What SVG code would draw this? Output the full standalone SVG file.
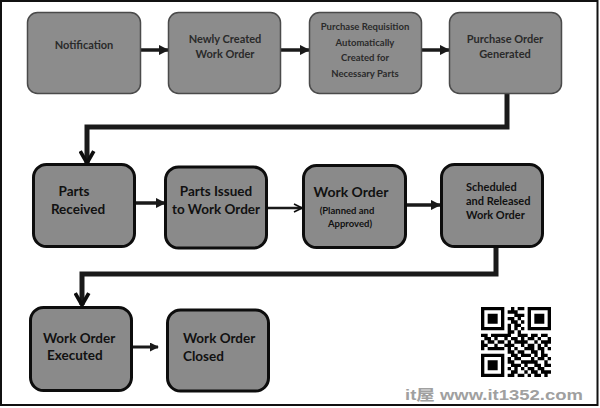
<svg xmlns="http://www.w3.org/2000/svg" width="600" height="408" viewBox="0 0 600 408">
<style>
.b1{fill:#8c8c8c;stroke:#4a4a4a;stroke-width:1.5}
.b2{fill:#8a8a8a;stroke:#0d0d0d;stroke-width:3}
.t1{font-family:Lato,"Liberation Sans",sans-serif;font-weight:bold;fill:#2a2a2a;text-anchor:middle}
.t2{font-family:Lato,"Liberation Sans",sans-serif;font-weight:bold;fill:#111;text-anchor:middle}
.s{text-anchor:start}
.c{fill:none;stroke:#1a1a1a}
</style>
<defs>
<marker id="ah" viewBox="0 0 10 10" refX="9" refY="5" markerWidth="3" markerHeight="3" orient="auto" markerUnits="strokeWidth">
<path d="M0 0L10 5L0 10z" fill="#1a1a1a"/>
</marker>
<marker id="ahd" viewBox="0 0 10 10" refX="8" refY="5" markerWidth="3.4" markerHeight="3.4" orient="auto" markerUnits="strokeWidth">
<path d="M1 1L8 5L1 9" fill="none" stroke="#0d0d0d" stroke-width="2.2"/>
</marker>
<marker id="aho" viewBox="0 0 10 10" refX="9" refY="5" markerWidth="4" markerHeight="4" orient="auto" markerUnits="strokeWidth">
<path d="M1 1L9 5L1 9" fill="none" stroke="#0d0d0d" stroke-width="1.6"/>
</marker>
</defs>
<rect x="0" y="0" width="600" height="408" fill="#fff"/>
<rect x="1" y="1" width="596.5" height="404" fill="none" stroke="#111" stroke-width="2"/>

<g id="connectors">
<line class="c" x1="141" y1="50" x2="168" y2="50" stroke-width="3.5" marker-end="url(#ah)"/>
<line class="c" x1="281" y1="50" x2="309" y2="50" stroke-width="3.5" marker-end="url(#ah)"/>
<line class="c" x1="422" y1="50" x2="449" y2="50" stroke-width="3.5" marker-end="url(#ah)"/>
<path class="c" d="M507 94V127H87V163" stroke-width="5" marker-end="url(#ahd)"/>
<line class="c" x1="135" y1="203" x2="165" y2="203" stroke-width="3.5" marker-end="url(#ah)"/>
<line class="c" x1="267" y1="208" x2="302" y2="208" stroke-width="2.5" marker-end="url(#aho)"/>
<line class="c" x1="406" y1="205" x2="440" y2="205" stroke-width="3.5" marker-end="url(#ah)"/>
<path class="c" d="M496 247V274H82V305" stroke-width="5" marker-end="url(#ahd)"/>
<line class="c" x1="132" y1="347" x2="158" y2="347" stroke-width="3" marker-end="url(#ah)"/>
</g>

<g id="n1"><rect class="b1" x="27.5" y="12.5" width="113" height="81" rx="10"/>
<text class="t1" x="84" y="49" font-size="11">Notification</text></g>
<g id="n2"><rect class="b1" x="168.5" y="12.5" width="112" height="81" rx="10"/>
<text class="t1" x="225" y="43" font-size="11">Newly Created</text>
<text class="t1" x="225" y="58" font-size="11">Work Order</text></g>
<g id="n3"><rect class="b1" x="309.5" y="12.5" width="112" height="81" rx="10"/>
<text class="t1" x="365" y="29.5" font-size="9.5">Purchase Requisition</text>
<text class="t1" x="365" y="45.5" font-size="9.5">Automatically</text>
<text class="t1" x="365" y="61" font-size="9.5">Created for</text>
<text class="t1" x="365" y="76.5" font-size="9.5">Necessary Parts</text></g>
<g id="n4"><rect class="b1" x="449.5" y="12.5" width="112" height="81" rx="10"/>
<text class="t1" x="505" y="43" font-size="11">Purchase Order</text>
<text class="t1" x="505" y="58" font-size="11">Generated</text></g>

<g id="n5"><rect class="b2" x="33.5" y="164.5" width="101" height="82" rx="13"/>
<text class="t2" x="74" y="196" font-size="13.5">Parts</text>
<text class="t2" x="78" y="214" font-size="13.5">Received</text></g>
<g id="n6"><rect class="b2" x="165.5" y="167" width="101" height="81" rx="13"/>
<text class="t2" x="216" y="196" font-size="13.5">Parts Issued</text>
<text class="t2" x="216" y="214" font-size="13.5">to Work Order</text></g>
<g id="n7"><rect class="b2" x="303.5" y="165.5" width="102" height="82" rx="13"/>
<text class="t2" x="351" y="197" font-size="14">Work Order</text>
<text class="t2" x="347" y="213.5" font-size="9.5">(Planned and</text>
<text class="t2" x="350" y="226.5" font-size="9.5">Approved)</text></g>
<g id="n8"><rect class="b2" x="441.5" y="164.5" width="101" height="82" rx="13"/>
<text class="t2 s" x="466" y="191" font-size="11">Scheduled</text>
<text class="t2 s" x="466" y="205" font-size="11">and Released</text>
<text class="t2 s" x="466" y="219" font-size="11">Work Order</text></g>

<g id="n9"><rect class="b2" x="30.5" y="307.5" width="101" height="83" rx="13"/>
<text class="t2 s" x="43" y="343" font-size="13.5">Work Order</text>
<text class="t2 s" x="47" y="360" font-size="13.5">Executed</text></g>
<g id="n10"><rect class="b2" x="167.5" y="310" width="101" height="81" rx="13"/>
<text class="t2 s" x="183" y="343" font-size="13.5">Work Order</text>
<text class="t2 s" x="183" y="361" font-size="13.5">Closed</text></g>

<g id="qr" transform="translate(481,307) scale(3.333)">
<path fill="#000" d="M0 0h7v1h-7zM9 0h1v1h-1zM11 0h2v1h-2zM14 0h7v1h-7z
M0 1h1v1h-1zM6 1h1v1h-1zM8 1h3v1h-3zM14 1h1v1h-1zM20 1h1v1h-1z
M0 2h1v1h-1zM2 2h3v1h-3zM6 2h1v1h-1zM10 2h3v1h-3zM14 2h1v1h-1zM16 2h3v1h-3zM20 2h1v1h-1z
M0 3h1v1h-1zM2 3h3v1h-3zM6 3h1v1h-1zM8 3h2v1h-2zM11 3h1v1h-1zM14 3h1v1h-1zM16 3h3v1h-3zM20 3h1v1h-1z
M0 4h1v1h-1zM2 4h3v1h-3zM6 4h1v1h-1zM9 4h2v1h-2zM12 4h1v1h-1zM14 4h1v1h-1zM16 4h3v1h-3zM20 4h1v1h-1z
M0 5h1v1h-1zM6 5h1v1h-1zM8 5h1v1h-1zM10 5h2v1h-2zM14 5h1v1h-1zM20 5h1v1h-1z
M0 6h7v1h-7zM8 6h1v1h-1zM10 6h1v1h-1zM12 6h1v1h-1zM14 6h7v1h-7z
M8 7h2v1h-2zM11 7h1v1h-1z
M0 8h2v1h-2zM3 8h6v1h-6zM11 8h3v1h-3zM15 8h2v1h-2zM18 8h2v1h-2z
M1 9h2v1h-2zM4 9h1v1h-1zM7 9h1v1h-1zM9 9h2v1h-2zM12 9h1v1h-1zM14 9h2v1h-2zM17 9h1v1h-1zM20 9h1v1h-1z
M0 10h1v1h-1zM2 10h2v1h-2zM5 10h2v1h-2zM8 10h1v1h-1zM10 10h4v1h-4zM16 10h1v1h-1zM18 10h3v1h-3z
M0 11h2v1h-2zM4 11h1v1h-1zM7 11h3v1h-3zM12 11h1v1h-1zM14 11h2v1h-2zM17 11h1v1h-1zM19 11h1v1h-1z
M0 12h1v1h-1zM2 12h5v1h-5zM8 12h1v1h-1zM10 12h1v1h-1zM13 12h3v1h-3zM17 12h2v1h-2zM20 12h1v1h-1z
M8 13h2v1h-2zM11 13h2v1h-2zM15 13h2v1h-2zM18 13h1v1h-1z
M0 14h7v1h-7zM9 14h2v1h-2zM12 14h3v1h-3zM16 14h1v1h-1zM18 14h2v1h-2z
M0 15h1v1h-1zM6 15h1v1h-1zM8 15h1v1h-1zM10 15h2v1h-2zM15 15h1v1h-1zM17 15h2v1h-2zM20 15h1v1h-1z
M0 16h1v1h-1zM2 16h3v1h-3zM6 16h1v1h-1zM8 16h2v1h-2zM12 16h5v1h-5zM19 16h1v1h-1z
M0 17h1v1h-1zM2 17h3v1h-3zM6 17h1v1h-1zM9 17h3v1h-3zM13 17h1v1h-1zM16 17h2v1h-2zM19 17h2v1h-2z
M0 18h1v1h-1zM2 18h3v1h-3zM6 18h1v1h-1zM8 18h1v1h-1zM10 18h1v1h-1zM12 18h1v1h-1zM14 18h2v1h-2zM17 18h2v1h-2z
M0 19h1v1h-1zM6 19h1v1h-1zM9 19h2v1h-2zM13 19h1v1h-1zM15 19h2v1h-2zM18 19h3v1h-3z
M0 20h7v1h-7zM8 20h2v1h-2zM11 20h2v1h-2zM14 20h1v1h-1zM16 20h2v1h-2zM19 20h1v1h-1z"/>
</g>
<text x="405" y="400" font-family="'Liberation Sans','Noto Sans CJK SC',sans-serif" font-weight="bold" font-size="15" fill="#a0a0a0" textLength="178" lengthAdjust="spacingAndGlyphs">it屋 www.it1352.com</text>
</svg>
